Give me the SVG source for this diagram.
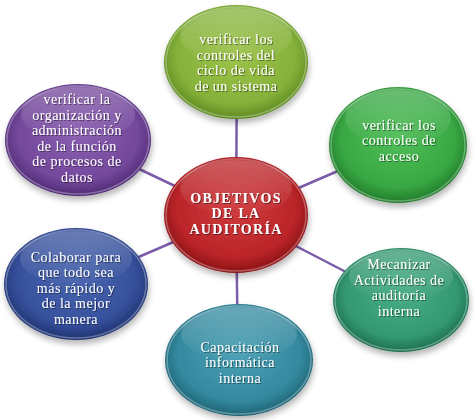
<svg xmlns="http://www.w3.org/2000/svg" width="474" height="420" viewBox="0 0 474 420">
<style>
.t{font-family:"Liberation Serif","Times New Roman",serif;font-size:14px;letter-spacing:0.5px;fill:#ffffff;text-anchor:middle;filter:url(#ts)}
.b{font-weight:bold;letter-spacing:1.3px}
.rim{fill:none;stroke:#ffffff;stroke-opacity:0.3;stroke-width:1.5}
.hl{fill:url(#gloss)}
.conn{stroke:#7b5ca8;stroke-width:2.5;fill:none}
</style>
<defs>
<filter id="sh" x="-20%" y="-20%" width="140%" height="150%">
<feGaussianBlur in="SourceAlpha" stdDeviation="3"/>
<feOffset dx="1" dy="4" result="o"/>
<feComponentTransfer><feFuncA type="linear" slope="0.3"/></feComponentTransfer>
<feMerge><feMergeNode/><feMergeNode in="SourceGraphic"/></feMerge>
</filter>
<filter id="ts" x="-10%" y="-30%" width="120%" height="160%">
<feGaussianBlur in="SourceAlpha" stdDeviation="0.5"/>
<feOffset dx="0.5" dy="0.7" result="o"/>
<feComponentTransfer><feFuncA type="linear" slope="0.45"/></feComponentTransfer>
<feMerge><feMergeNode/><feMergeNode in="SourceGraphic"/></feMerge>
</filter>
<linearGradient id="gloss" x1="0" y1="0" x2="0" y2="1">
<stop offset="0" stop-color="#ffffff" stop-opacity="0.25"/>
<stop offset="1" stop-color="#ffffff" stop-opacity="0"/>
</linearGradient>
<radialGradient id="gOlive" cx="50%" cy="45%" r="55%">
<stop offset="0" stop-color="#9cc24a"/><stop offset="0.75" stop-color="#86b23a"/><stop offset="1" stop-color="#5e8a22"/>
</radialGradient>
<radialGradient id="gPurple" cx="50%" cy="45%" r="55%">
<stop offset="0" stop-color="#8a5fb0"/><stop offset="0.75" stop-color="#74489c"/><stop offset="1" stop-color="#4e2a74"/>
</radialGradient>
<radialGradient id="gRed" cx="50%" cy="45%" r="55%">
<stop offset="0" stop-color="#cf3a3c"/><stop offset="0.75" stop-color="#bb2529"/><stop offset="1" stop-color="#8a1216"/>
</radialGradient>
<radialGradient id="gGreen" cx="50%" cy="45%" r="55%">
<stop offset="0" stop-color="#50be58"/><stop offset="0.75" stop-color="#38a843"/><stop offset="1" stop-color="#217a2a"/>
</radialGradient>
<radialGradient id="gBlue" cx="50%" cy="45%" r="55%">
<stop offset="0" stop-color="#4a66b0"/><stop offset="0.75" stop-color="#36509c"/><stop offset="1" stop-color="#1f3270"/>
</radialGradient>
<radialGradient id="gTealG" cx="50%" cy="45%" r="55%">
<stop offset="0" stop-color="#48ad86"/><stop offset="0.75" stop-color="#339872"/><stop offset="1" stop-color="#1d6e4e"/>
</radialGradient>
<radialGradient id="gTeal" cx="50%" cy="45%" r="55%">
<stop offset="0" stop-color="#4aa0b4"/><stop offset="0.75" stop-color="#348aa0"/><stop offset="1" stop-color="#1f6374"/>
</radialGradient>
</defs>
<rect width="474" height="420" fill="#ffffff"/>
<g id="connectors">
<line class="conn" x1="236" y1="215" x2="237" y2="62"/>
<line class="conn" x1="236" y1="215" x2="78" y2="140"/>
<line class="conn" x1="236" y1="215" x2="398" y2="145"/>
<line class="conn" x1="236" y1="215" x2="76" y2="284"/>
<line class="conn" x1="236" y1="215" x2="400" y2="300"/>
<line class="conn" x1="236" y1="215" x2="238" y2="360"/>
</g>
<g id="node-top">
<ellipse cx="236" cy="62" rx="72" ry="57" fill="url(#gOlive)" filter="url(#sh)"/>
<ellipse class="rim" cx="236" cy="62" rx="70" ry="55"/>
<ellipse class="hl" cx="236" cy="36" rx="56" ry="28"/>
<text class="t" x="236" y="44">verificar los</text>
<text class="t" x="236" y="59.5">controles del</text>
<text class="t" x="236" y="75">ciclo de vida</text>
<text class="t" x="236" y="90.5">de un sistema</text>
</g>
<g id="node-purple">
<ellipse cx="78" cy="140" rx="73" ry="56" fill="url(#gPurple)" filter="url(#sh)"/>
<ellipse class="rim" cx="78" cy="140" rx="71" ry="54"/>
<ellipse class="hl" cx="78" cy="114" rx="57" ry="27"/>
<text class="t" x="77" y="104">verificar la</text>
<text class="t" x="77" y="119.5">organización y</text>
<text class="t" x="77" y="135">administración</text>
<text class="t" x="77" y="150.5">de la  función</text>
<text class="t" x="77" y="166">de procesos de</text>
<text class="t" x="77" y="181.5">datos</text>
</g>
<g id="node-center">
<ellipse cx="236" cy="215" rx="72" ry="58" fill="url(#gRed)" filter="url(#sh)"/>
<ellipse class="rim" cx="236" cy="215" rx="70" ry="56"/>
<ellipse class="hl" cx="236" cy="188" rx="56" ry="28"/>
<text class="t b" x="236" y="202.5">OBJETIVOS</text>
<text class="t b" x="236" y="218">DE LA</text>
<text class="t b" x="236" y="233.5">AUDITORÍA</text>
</g>
<g id="node-green">
<ellipse cx="398" cy="145" rx="69" ry="58" fill="url(#gGreen)" filter="url(#sh)"/>
<ellipse class="rim" cx="398" cy="145" rx="67" ry="56"/>
<ellipse class="hl" cx="398" cy="118" rx="53" ry="28"/>
<text class="t" x="399" y="129.5">verificar los</text>
<text class="t" x="399" y="145">controles de</text>
<text class="t" x="399" y="160.5">acceso</text>
</g>
<g id="node-blue">
<ellipse cx="76" cy="284" rx="72" ry="56" fill="url(#gBlue)" filter="url(#sh)"/>
<ellipse class="rim" cx="76" cy="284" rx="70" ry="54"/>
<ellipse class="hl" cx="76" cy="258" rx="56" ry="27"/>
<text class="t" x="76" y="261.5">Colaborar para</text>
<text class="t" x="76" y="277">que todo sea</text>
<text class="t" x="76" y="292.5">más rápido y</text>
<text class="t" x="76" y="308">de la mejor</text>
<text class="t" x="76" y="323.5">manera</text>
</g>
<g id="node-tealgreen">
<ellipse cx="401" cy="300" rx="68" ry="52" fill="url(#gTealG)" filter="url(#sh)"/>
<ellipse class="rim" cx="401" cy="300" rx="66" ry="50"/>
<ellipse class="hl" cx="401" cy="276" rx="52" ry="25"/>
<text class="t" x="399" y="269">Mecanizar</text>
<text class="t" x="399" y="284.5">Actividades de</text>
<text class="t" x="399" y="300">auditoría</text>
<text class="t" x="399" y="315.5">interna</text>
</g>
<g id="node-teal">
<ellipse cx="239" cy="360" rx="74" ry="56" fill="url(#gTeal)" filter="url(#sh)"/>
<ellipse class="rim" cx="239" cy="360" rx="72" ry="54"/>
<ellipse class="hl" cx="239" cy="334" rx="58" ry="27"/>
<text class="t" x="240" y="351.5">Capacitación</text>
<text class="t" x="240" y="367">informática</text>
<text class="t" x="240" y="382.5">interna</text>
</g>
</svg>
